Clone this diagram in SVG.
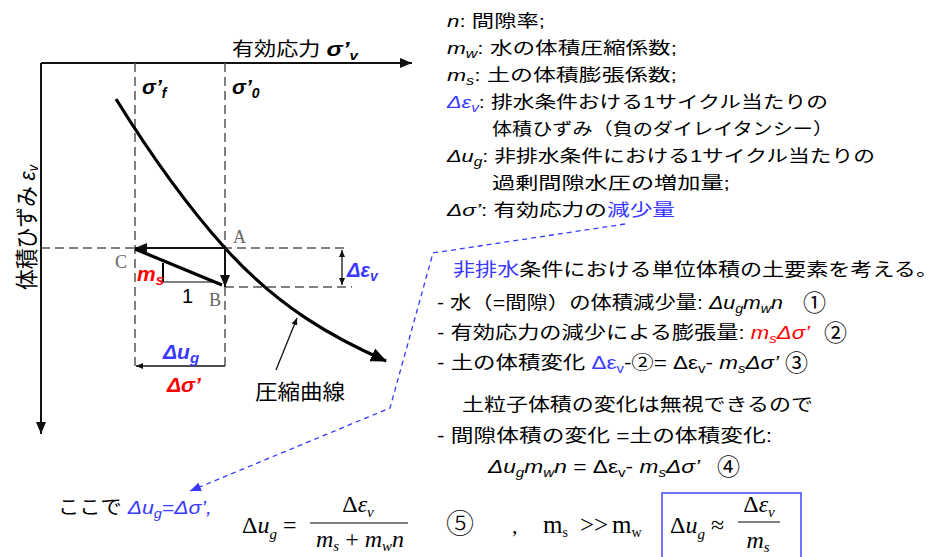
<svg xmlns="http://www.w3.org/2000/svg" width="930" height="557" viewBox="0 0 930 557">
<style>
.ax{stroke:#111;stroke-width:2;fill:none}
.dash{stroke:#555;stroke-width:1.5;stroke-dasharray:9 5;fill:none}
.thick{stroke:#000;stroke-width:3.2;fill:none}
.thin{stroke:#111;stroke-width:1.3;fill:none}
.bd{stroke:#3838ff;stroke-width:1.3;stroke-dasharray:5 4;fill:none}
.t{font-family:"Liberation Sans","Noto Sans CJK JP",sans-serif;fill:#000}
.bi{font-style:italic;font-weight:bold}
.i{font-style:italic}
.blue{fill:#3838ff}
.red{fill:#ff0000}
.lbl{font-family:"Liberation Serif",serif;font-size:18px;fill:#666}
.m{font-family:"Liberation Serif","DejaVu Serif",serif;fill:#000}
.c{font-family:"Noto Sans CJK JP",sans-serif;fill:#000}
.cn{font-family:"Noto Sans CJK JP",sans-serif;fill:#000}
</style>
<defs>
<marker id="arr" markerUnits="userSpaceOnUse" markerWidth="13" markerHeight="10" refX="12" refY="5" orient="auto"><path d="M0,0 L12,5 L0,10 z" fill="#111"/></marker>
<marker id="arrS" markerUnits="userSpaceOnUse" markerWidth="8" markerHeight="6" refX="7" refY="3" orient="auto"><path d="M0,0 L7,3 L0,6 z" fill="#111"/></marker>
<marker id="arrSs" markerUnits="userSpaceOnUse" markerWidth="8" markerHeight="6" refX="0" refY="3" orient="auto"><path d="M7,0 L0,3 L7,6 z" fill="#111"/></marker>
<marker id="arrBig" markerUnits="userSpaceOnUse" markerWidth="18" markerHeight="14" refX="15" refY="7" orient="auto"><path d="M0,0 L16,7 L0,14 z" fill="#000"/></marker>
<marker id="arrBlue" markerUnits="userSpaceOnUse" markerWidth="12" markerHeight="9" refX="11" refY="4.5" orient="auto"><path d="M0,0 L11,4.5 L0,9 z" fill="#3838ff"/></marker>
</defs>

<g id="axes">
<line class="ax" x1="41" y1="63" x2="412" y2="63" marker-end="url(#arr)"/>
<line class="ax" x1="41" y1="63" x2="41" y2="434" marker-end="url(#arr)"/>
<text class="t" x="232" y="56" font-size="19" textLength="126" lengthAdjust="spacingAndGlyphs">有効応力 <tspan class="bi" font-size="21">σ’</tspan><tspan class="bi" font-size="13" dy="4">v</tspan></text>
<text class="t" font-size="23" transform="translate(35,290) rotate(-90)" textLength="125" lengthAdjust="spacingAndGlyphs">体積ひずみ <tspan class="i">ε</tspan><tspan class="i" font-size="14" dy="3">v</tspan></text>
</g>

<g id="guides">
<line class="dash" x1="135" y1="63" x2="135" y2="370"/>
<line class="dash" x1="225" y1="63" x2="225" y2="370"/>
<line class="dash" x1="41" y1="248" x2="348" y2="248"/>
<line class="dash" x1="225" y1="287" x2="352" y2="287"/>
<text class="t bi" x="142" y="94" font-size="21">σ’<tspan font-size="14" dy="4">f</tspan></text>
<text class="t bi" x="232" y="94" font-size="21">σ’<tspan font-size="14" dy="4">0</tspan></text>
</g>

<g id="curve">
<path class="thick" d="M116,99 C152,157 189,208 225,248 C279,308 334,338 386,361" marker-end="url(#arrBig)"/>
<line class="thin" x1="276" y1="370" x2="297" y2="318" marker-end="url(#arrS)"/>
<text class="c" x="255" y="399" font-size="21" textLength="90" lengthAdjust="spacingAndGlyphs">圧縮曲線</text>
</g>

<g id="pointA"><text class="lbl" x="233" y="243">A</text></g>
<g id="pointB"><text class="lbl" x="209" y="306">B</text></g>
<g id="pointC"><text class="lbl" x="115" y="268">C</text></g>

<g id="connectors">
<line x1="225" y1="248" x2="135" y2="248" stroke="#111" stroke-width="2" marker-end="url(#arr)"/>
<line x1="225" y1="248" x2="225" y2="287" stroke="#111" stroke-width="2" marker-end="url(#arr)"/>
<line class="thick" x1="135" y1="249" x2="222" y2="285"/>
<line x1="163" y1="263" x2="163" y2="282" stroke="#000" stroke-width="2"/>
<line x1="163" y1="282" x2="218" y2="282" stroke="#000" stroke-width="1.2"/>
<line class="thin" x1="342" y1="250" x2="342" y2="285" marker-start="url(#arrSs)" marker-end="url(#arrS)"/>
<line class="thin" x1="225" y1="366" x2="136" y2="366" marker-end="url(#arrS)"/>
<polyline class="bd" points="625,224 433,253 390,408 190,491" marker-end="url(#arrBlue)"/>
</g>

<g id="chartLabels">
<text class="t bi red" x="137" y="281" font-size="21">m<tspan font-size="15" dy="4">s</tspan></text>
<text class="t" x="182" y="303" font-size="20">1</text>
<text class="t bi blue" x="347" y="277" font-size="20">Δε<tspan font-size="14" dy="4">v</tspan></text>
<text class="t bi blue" x="163" y="359" font-size="21">Δu<tspan font-size="15" dy="4">g</tspan></text>
<text class="t bi red" x="167" y="392" font-size="21">Δσ’</text>
</g>

<g id="legend">
<text class="t" x="447" y="27" font-size="17" textLength="98" lengthAdjust="spacingAndGlyphs"><tspan class="i">n</tspan>: 間隙率;</text>
<text class="t" x="447" y="54" font-size="17" textLength="230" lengthAdjust="spacingAndGlyphs"><tspan class="i">m</tspan><tspan class="i" font-size="12" dy="4">w</tspan><tspan dy="-4">: 水の体積圧縮係数;</tspan></text>
<text class="t" x="447" y="81" font-size="17" textLength="230" lengthAdjust="spacingAndGlyphs"><tspan class="i">m</tspan><tspan class="i" font-size="12" dy="4">s</tspan><tspan dy="-4">: 土の体積膨張係数;</tspan></text>
<text class="t" x="447" y="108" font-size="17" textLength="381" lengthAdjust="spacingAndGlyphs"><tspan class="i blue">Δε</tspan><tspan class="i blue" font-size="12" dy="4">v</tspan><tspan dy="-4">: 排水条件おける1サイクル当たりの</tspan></text>
<text class="t" x="492" y="135" font-size="17" textLength="341" lengthAdjust="spacingAndGlyphs">体積ひずみ（負のダイレイタンシー）</text>
<text class="t" x="447" y="162" font-size="17" textLength="428" lengthAdjust="spacingAndGlyphs"><tspan class="i">Δu</tspan><tspan class="i" font-size="12" dy="4">g</tspan><tspan dy="-4">: 非排水条件における1サイクル当たりの</tspan></text>
<text class="t" x="492" y="189" font-size="17" textLength="238" lengthAdjust="spacingAndGlyphs">過剰間隙水圧の増加量;</text>
<text class="t" x="447" y="216" font-size="17" textLength="228" lengthAdjust="spacingAndGlyphs"><tspan class="i">Δσ’</tspan>: 有効応力の<tspan class="blue">減少量</tspan></text>
</g>

<g id="derivation">
<text class="t" x="453" y="276" font-size="18" textLength="485" lengthAdjust="spacingAndGlyphs"><tspan class="blue">非排水</tspan>条件における単位体積の土要素を考える。</text>
<text class="t" x="437" y="309" font-size="18" textLength="346" lengthAdjust="spacingAndGlyphs">- 水（=間隙）の体積減少量: <tspan class="i">Δu</tspan><tspan class="i" font-size="12" dy="4">g</tspan><tspan class="i" dy="-4">m</tspan><tspan class="i" font-size="12" dy="4">w</tspan><tspan class="i" dy="-4">n</tspan></text>
<text class="cn" x="803" y="311" font-size="23">①</text>
<text class="t" x="437" y="339" font-size="18" textLength="373" lengthAdjust="spacingAndGlyphs">- 有効応力の減少による膨張量: <tspan class="i red">m</tspan><tspan class="i red" font-size="12" dy="4">s</tspan><tspan class="i red" dy="-4">Δσ’</tspan></text>
<text class="cn" x="824" y="341" font-size="23">②</text>
<text class="t" x="437" y="369" font-size="18" textLength="342" lengthAdjust="spacingAndGlyphs">- 土の体積変化 <tspan class="blue">Δε</tspan><tspan class="blue" font-size="12" dy="4">v</tspan><tspan dy="-4">-②= Δε</tspan><tspan font-size="12" dy="4">v</tspan><tspan dy="-4">- </tspan><tspan class="i">m</tspan><tspan class="i" font-size="12" dy="4">s</tspan><tspan class="i" dy="-4">Δσ’</tspan></text>
<text class="cn" x="785" y="371" font-size="23">③</text>
<text class="t" x="462" y="411" font-size="18" textLength="351" lengthAdjust="spacingAndGlyphs">土粒子体積の変化は無視できるので</text>
<text class="t" x="437" y="442" font-size="18" textLength="335" lengthAdjust="spacingAndGlyphs">- 間隙体積の変化 =土の体積変化:</text>
<text class="t" x="488" y="473" font-size="18" textLength="212" lengthAdjust="spacingAndGlyphs"><tspan class="i">Δu</tspan><tspan class="i" font-size="12" dy="4">g</tspan><tspan class="i" dy="-4">m</tspan><tspan class="i" font-size="12" dy="4">w</tspan><tspan class="i" dy="-4">n</tspan> = Δε<tspan font-size="12" dy="4">v</tspan><tspan dy="-4">- </tspan><tspan class="i">m</tspan><tspan class="i" font-size="12" dy="4">s</tspan><tspan class="i" dy="-4">Δσ’</tspan></text>
<text class="cn" x="717" y="475" font-size="23">④</text>
</g>

<g id="result">
<text class="t" x="58" y="514" font-size="19" textLength="154" lengthAdjust="spacingAndGlyphs">ここで <tspan class="i blue">Δu</tspan><tspan class="i blue" font-size="13" dy="4">g</tspan><tspan class="i blue" dy="-4">=Δσ’,</tspan></text>
<text class="m" x="242" y="533" font-size="24">Δ<tspan font-style="italic">u</tspan><tspan font-style="italic" font-size="15" dy="6">g</tspan><tspan dy="-6"> = </tspan></text>
<line x1="310" y1="523" x2="408" y2="523" stroke="#555" stroke-width="1.4"/>
<text class="m" x="358" y="512" font-size="24" text-anchor="middle">Δ<tspan font-style="italic">ε</tspan><tspan font-style="italic" font-size="15" dy="5">v</tspan></text>
<text class="m" x="360" y="547" font-size="24" text-anchor="middle"><tspan font-style="italic">m</tspan><tspan font-style="italic" font-size="15" dy="4">s</tspan><tspan dy="-4"> + </tspan><tspan font-style="italic">m</tspan><tspan font-style="italic" font-size="15" dy="4">w</tspan><tspan font-style="italic" dy="-4">n</tspan></text>
<text class="cn" x="446" y="534" font-size="28" font-weight="300">⑤</text>
<text class="m" x="512" y="533" font-size="22">,</text>
<text class="m" x="543" y="533" font-size="25">m<tspan font-size="14" dy="4">s</tspan><tspan x="580" dy="-4">&gt;&gt;</tspan><tspan x="612">m</tspan><tspan font-size="14" dy="4">w</tspan></text>
<rect x="662" y="493" width="139" height="80" fill="none" stroke="#4444ff" stroke-width="1.5"/>
<text class="m" x="670" y="533" font-size="24">Δ<tspan font-style="italic">u</tspan><tspan font-style="italic" font-size="15" dy="6">g</tspan><tspan dy="-6"> ≈</tspan></text>
<line x1="738" y1="522" x2="780" y2="522" stroke="#555" stroke-width="1.4"/>
<text class="m" x="759" y="512" font-size="24" text-anchor="middle">Δ<tspan font-style="italic">ε</tspan><tspan font-style="italic" font-size="15" dy="5">v</tspan></text>
<text class="m" x="758" y="548" font-size="24" text-anchor="middle"><tspan font-style="italic">m</tspan><tspan font-style="italic" font-size="15" dy="4">s</tspan></text>
</g>
</svg>
